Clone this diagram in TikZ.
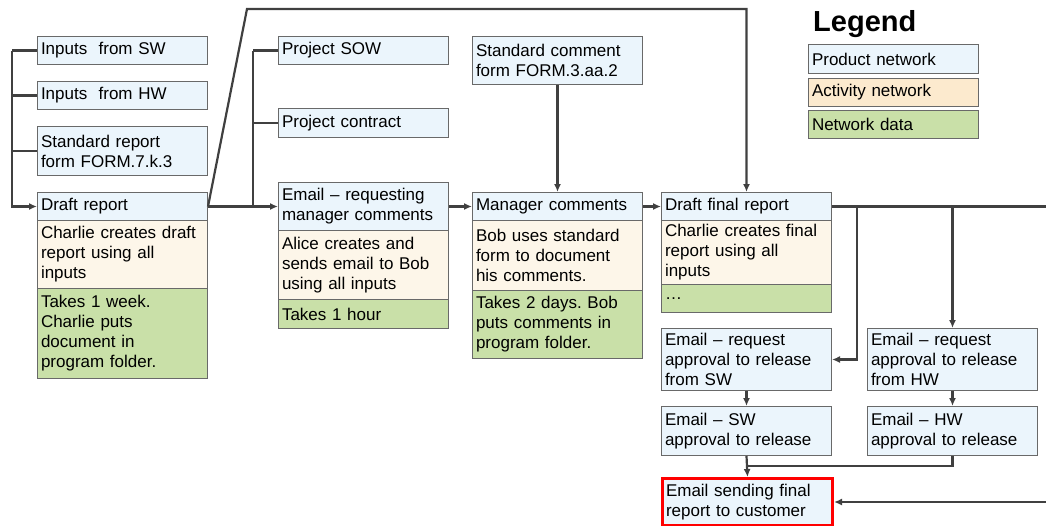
\documentclass[tikz,border=0pt]{standalone}
\usepackage{fontspec}
\setmainfont{Liberation Sans}
\usetikzlibrary{arrows.meta}
\frenchspacing

\definecolor{prodfill}{RGB}{235,245,252}
\definecolor{actfill}{RGB}{253,246,233}
\definecolor{actlegend}{RGB}{252,234,206}
\definecolor{datafill}{RGB}{201,224,168}
\definecolor{boxline}{RGB}{105,105,105}
\definecolor{linegray}{RGB}{64,64,64}

\begin{document}
\begin{tikzpicture}[x=1pt, y=-1pt, every node/.style={font=\fontsize{17}{20}\selectfont}]

    \useasboundingbox (0,0) rectangle (1046,525);

    % --- Stile ---
    \tikzset{kasten/.style={draw=boxline, line width=1pt, rectangle, anchor=north west, align=left,
                            text width=163pt, inner xsep=3.5pt, inner ysep=0pt, minimum height=#1}}
    \tikzset{prod/.style={kasten=#1, fill=prodfill}}
    \tikzset{act/.style={kasten=#1, fill=actfill}}
    \tikzset{netdata/.style={kasten=#1, fill=datafill}}
    \tikzset{conn/.style={draw=linegray, line width=2.2pt, >={Latex[length=8pt,width=7pt]}}}

    % --- Eingaenge links ---
    \node[prod=28] (inSW) at (37,36) {Inputs\ \ from SW};
    \node[prod=28] (inHW) at (37,81) {Inputs\ \ from HW};
    \node[prod=49] (formR) at (37,126) {Standard report\\form FORM.7.k.3};

    % --- Draft report ---
    \node[prod=28] (draftH) at (37,192) {Draft report};
    \node[act=68] (draftA) at (37,220) {Charlie creates draft\\report using all\\inputs};
    \node[netdata=90] (draftD) at (37,288) {Takes 1 week.\\Charlie puts\\document in\\program folder.};

    % --- Projektdaten ---
    \node[prod=28] (sow) at (278,36) {Project SOW};
    \node[prod=29] (contract) at (278,108) {Project contract};

    % --- Email an Manager ---
    \node[prod=48] (emailH) at (278,182) {Email -- requesting\\manager comments};
    \node[act=69] (emailA) at (278,230) {Alice creates and\\sends email to Bob\\using all inputs};
    \node[netdata=29] (emailD) at (278,299) {Takes 1 hour};

    % --- Manager comments ---
    \node[prod=48] (formC) at (472,36) {Standard comment\\form FORM.3.aa.2};
    \node[prod=28] (mgrH) at (472,192) {Manager comments};
    \node[act=70] (mgrA) at (472,220) {Bob uses standard\\form to document\\his comments.};
    \node[netdata=68] (mgrD) at (472,290) {Takes 2 days. Bob\\puts comments in\\program folder.};

    % --- Draft final report ---
    \node[prod=28] (finalH) at (661,192) {Draft final report};
    \node[act=64] (finalA) at (661,220) {Charlie creates final\\report using all\\inputs};
    \node[netdata=28] (finalD) at (661,284) {…};

    % --- Freigaben ---
    \node[prod=62] (reqSW) at (661,328) {Email -- request\\approval to release\\from SW};
    \node[prod=62] (reqHW) at (867,328) {Email -- request\\approval to release\\from HW};
    \node[prod=49] (apSW) at (661,406) {Email -- SW\\approval to release};
    \node[prod=49] (apHW) at (867,406) {Email -- HW\\approval to release};
    \node[prod=47, draw=red, line width=3pt] (send) at (661,477) {Email sending final\\report to customer};

    % --- Legende ---
    \node[anchor=west, inner sep=0pt, font=\fontsize{29}{32}\selectfont\bfseries] (legTitle) at (813,24) {Legend};
    \node[prod=29] (legP) at (808,44) {Product network};
    \node[kasten=28, fill=actlegend] (legA) at (808,78) {Activity network};
    \node[netdata=28] (legD) at (808,110) {Network data};

    % --- Hilfspunkte ---
    \coordinate (busL) at (12,0);
    \coordinate (busM) at (253,0);
    \coordinate (knick) at (247,9);
    \coordinate (brSW) at (857,0);
    \coordinate (edgeR) at (1046,0);
    \coordinate (join) at (746,466);

    % --- Verbindungen ---
    \draw[conn, ->] (inSW.west -| busL) |- (draftH.west);
    \draw[conn] (inSW.west) -- (inSW.west -| busL);
    \draw[conn] (inHW.west) -- (inHW.west -| busL);
    \draw[conn] (formR.west) -- (formR.west -| busL);

    \draw[conn, ->] (draftH.east) -- (emailH.west);
    \draw[conn] (sow.west -| busM) -- (emailH.west -| busM);
    \draw[conn] (sow.west) -- (sow.west -| busM);
    \draw[conn] (contract.west) -- (contract.west -| busM);
    \draw[conn, ->] (draftH.east) -- (knick) -| (finalH.north);

    \draw[conn, ->] (emailH.east) -- (mgrH.west);
    \draw[conn, ->] (formC.south) -- (mgrH.north);
    \draw[conn, ->] (mgrH.east) -- (finalH.west);

    \draw[conn] (finalH.east) -- (finalH.east -| edgeR);
    \draw[conn, ->] (finalH.east -| brSW) |- (reqSW.east);
    \draw[conn, ->] (finalH.east -| reqHW.north) -- (reqHW.north);
    \draw[conn, ->] (reqSW.south) -- (apSW.north);
    \draw[conn, ->] (reqHW.south) -- (apHW.north);
    \draw[conn, ->] (apSW.south) -- (send.north);
    \draw[conn] (apHW.south) |- (join);
    \draw[conn, ->] (send.east -| edgeR) -- (send.east);

\end{tikzpicture}
\end{document}
